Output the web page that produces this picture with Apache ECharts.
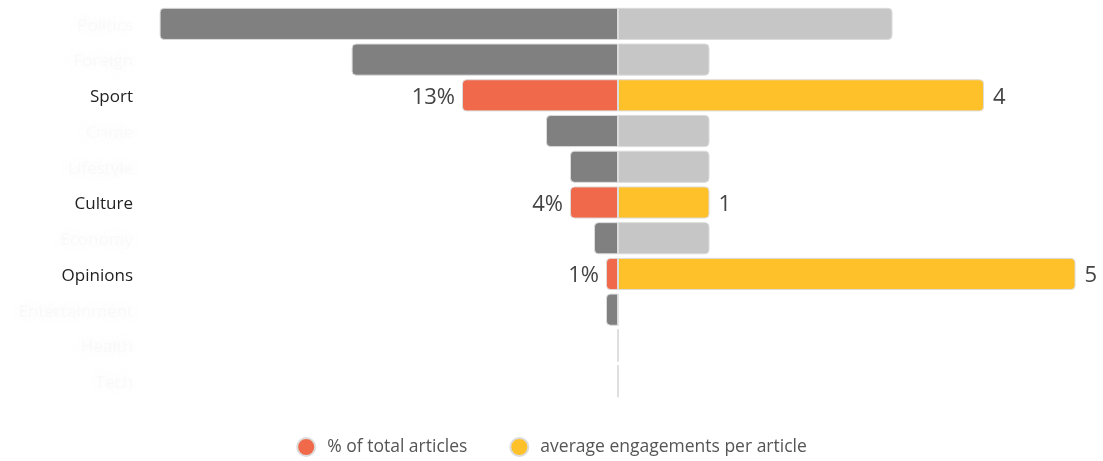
<!DOCTYPE html>
<html>
<head>
<meta charset="utf-8">
<script src="https://cdn.jsdelivr.net/npm/echarts@6/dist/echarts.min.js"></script>
<style>
  html, body { margin: 0; padding: 0; background: #fff; }
  #chart { width: 1103px; height: 461px; }
</style>
</head>
<body>
<div id="chart"></div>
<script>
var categories = ['Politics', 'Foreign', 'Sport', 'Crime', 'Lifestyle', 'Culture', 'Economy', 'Opinions', 'Entertainment', 'Health', 'Tech'];
var shareOfArticles = [38.2, 22.2, 13, 6, 4, 4, 2, 1, 1, 0, 0];
var avgEngagements = [3, 1, 4, 1, 1, 1, 1, 5, 0, 0, 0];
var highlighted = ['Sport', 'Culture', 'Opinions'];

var chart = echarts.init(document.getElementById('chart'));

function isHi(i) {
    return highlighted.indexOf(categories[i]) >= 0;
}

// left side: share of articles
var leftData = [];
for (let i = 0; i < categories.length; i++) {
    let obj = { value: shareOfArticles[i] };
    if (isHi(i)) {
        obj.itemStyle = { color: '#f0694a' };
        obj.label = { show: true };
    } else {
        obj.itemStyle = { color: '#808080' };
    }
    leftData.push(obj);
}
// right side: engagements
var rightData = [];
for (let i = 0; i < categories.length; i++) {
    let obj = { value: avgEngagements[i] };
    if (isHi(i)) {
        obj.itemStyle = { color: '#ffc12a' };
        obj.label = { show: true };
    } else {
        obj.itemStyle = { color: '#c6c6c6' };
    }
    rightData.push(obj);
}

var option = {
    animation: false,
    textStyle: { fontFamily: 'Open Sans' },
    legend: {
        top: 432,
        left: 'center',
        icon: 'circle',
        itemWidth: 18,
        itemHeight: 18,
        itemGap: 42,
        textStyle: { fontSize: 17.5, color: '#555', fontFamily: 'Open Sans', padding: [0, 0, 0, 7] },
        data: [
            { name: '% of total articles', itemStyle: { color: '#f0694a' } },
            { name: 'average engagements per article', itemStyle: { color: '#ffc12a' } }
        ]
    },
    grid: [
        { left: 138, width: 480, top: 6, height: 393 },
        { left: 618, width: 488, top: 6, height: 393 }
    ],
    xAxis: [
        { gridIndex: 0, type: 'value', inverse: true, min: 0, max: 40, show: false },
        { gridIndex: 1, type: 'value', min: 0, max: 5.3, show: false }
    ],
    yAxis: [
        {
            gridIndex: 0,
            type: 'category',
            inverse: true,
            data: categories,
            position: 'left',
            axisLine: { show: false, onZero: false },
            axisTick: { show: false },
            axisLabel: {
                margin: 5,
                formatter: function (v) {
                    return highlighted.indexOf(v) >= 0 ? '{hi|' + v + '}' : '{lo|' + v + '}';
                },
                rich: {
                    hi: { fontSize: 17, color: '#222', fontFamily: 'Open Sans', padding: [4, 0, 0, 0] },
                    lo: {
                        fontSize: 17,
                        color: 'rgba(225,225,225,0.15)',
                        fontFamily: 'Open Sans',
                        padding: [4, 0, 0, 0],
                        textShadowColor: 'rgba(190,190,190,1)',
                        textShadowBlur: 12
                    }
                }
            }
        },
        {
            gridIndex: 1,
            type: 'category',
            inverse: true,
            data: categories,
            show: false
        }
    ],
    series: [
        {
            name: '% of total articles',
            type: 'bar',
            xAxisIndex: 0,
            yAxisIndex: 0,
            barCategoryGap: '10%',
            color: '#f0694a',
            itemStyle: { borderColor: '#dcdcdc', borderWidth: 1, borderRadius: [4, 0, 0, 4] },
            label: {
                show: false,
                position: 'left',
                distance: 7,
                offset: [0, 2],
                fontSize: 22,
                color: '#444',
                formatter: '{c}%'
            },
            data: leftData
        },
        {
            name: 'average engagements per article',
            type: 'bar',
            xAxisIndex: 1,
            yAxisIndex: 1,
            barCategoryGap: '10%',
            color: '#ffc12a',
            itemStyle: { borderColor: '#dcdcdc', borderWidth: 1, borderRadius: [0, 4, 4, 0] },
            label: {
                show: false,
                position: 'right',
                distance: 9,
                offset: [0, 2],
                fontSize: 22,
                color: '#444',
                formatter: '{c}'
            },
            data: rightData
        }
    ]
};
chart.setOption(option);
</script>
</body>
</html>
